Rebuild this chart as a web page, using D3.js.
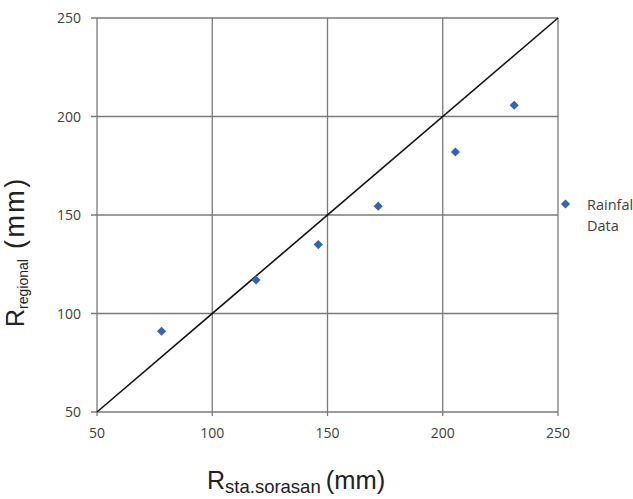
<!DOCTYPE html>
<html>
<head>
<meta charset="utf-8">
<script src="https://cdn.jsdelivr.net/npm/d3@7"></script>
<style>
  html, body { margin: 0; padding: 0; background: #fff; }
  svg { display: block; }
  text { font-family: "Open Sans", "DejaVu Sans", sans-serif; }
  .title { font-family: "Liberation Sans", Arial, sans-serif; }
</style>
</head>
<body>
<svg id="chart" width="633" height="499"></svg>
<script>
// Data
const stationValues = [78, 119, 146, 172, 205.5, 231];
const regionalValues = [91, 117, 135, 154.5, 182, 205.7];
const xTicks = [50, 100, 150, 200, 250];
const yTicks = [50, 100, 150, 200, 250];
const lineEnds = [50, 250];
const seriesName = ["Rainfal", "Data"];

const svg = d3.select("#chart");
const mLeft = 97, mRight = 558, mTop = 18, mBottom = 412;

const x = d3.scaleLinear().domain([50, 250]).range([mLeft, mRight]);
const y = d3.scaleLinear().domain([50, 250]).range([mBottom, mTop]);

const gridColor = "#7a7a7a";
const labelColor = "#404040";

// grid
svg.append("g").selectAll("line").data(xTicks).join("line")
  .attr("x1", d => x(d)).attr("x2", d => x(d))
  .attr("y1", mTop).attr("y2", mBottom + 4)
  .attr("stroke", gridColor).attr("stroke-width", 1.3);
svg.append("g").selectAll("line").data(yTicks).join("line")
  .attr("x1", mLeft - 6).attr("x2", mRight)
  .attr("y1", d => y(d)).attr("y2", d => y(d))
  .attr("stroke", gridColor).attr("stroke-width", 1.3);

// tick labels
svg.append("g").selectAll("text").data(xTicks).join("text")
  .attr("x", d => x(d)).attr("y", mBottom + 26)
  .attr("text-anchor", "middle")
  .attr("font-size", 14).attr("fill", labelColor)
  .text(d => d);
svg.append("g").selectAll("text").data(yTicks).join("text")
  .attr("x", mLeft - 16).attr("y", d => y(d) + 5)
  .attr("text-anchor", "end")
  .attr("font-size", 14).attr("fill", labelColor)
  .text(d => d);

// 1:1 line
svg.append("line")
  .attr("x1", x(lineEnds[0])).attr("y1", y(lineEnds[0]))
  .attr("x2", x(lineEnds[1])).attr("y2", y(lineEnds[1]))
  .attr("stroke", "#111").attr("stroke-width", 1.6);

// points
const markerColor = "#3563b7";
const diamond = d3.symbol().type(d3.symbolSquare).size(42);
svg.append("g").selectAll("path").data(stationValues.map((v, i) => [v, regionalValues[i]])).join("path")
  .attr("d", diamond)
  .attr("transform", d => `translate(${x(d[0])},${y(d[1])}) rotate(45)`)
  .attr("fill", markerColor);

// legend
svg.append("path").attr("d", diamond)
  .attr("transform", "translate(565.5,204) rotate(45)")
  .attr("fill", markerColor);
svg.append("text").attr("x", 587).attr("y", 210)
  .attr("font-size", 14.5).attr("fill", labelColor).text(seriesName[0]);
svg.append("text").attr("x", 587).attr("y", 231)
  .attr("font-size", 14.5).attr("fill", labelColor).text(seriesName[1]);

// axis titles
const xt = svg.append("text").attr("class", "title").attr("x", 207).attr("y", 489).attr("fill", "#222");
xt.append("tspan").attr("font-size", 25).text("R");
xt.append("tspan").attr("font-size", 18.5).attr("dy", 3.5).text("sta.sorasan");
xt.append("tspan").attr("font-size", 25.5).attr("dy", -3.5).attr("dx", 5).text("(mm)");

const yt = svg.append("text").attr("class", "title").attr("transform", "translate(24,327) rotate(-90)").attr("fill", "#222");
yt.append("tspan").attr("font-size", 25).text("R");
yt.append("tspan").attr("font-size", 14).attr("dy", 3.5).text("regional");
yt.append("tspan").attr("font-size", 27).attr("dy", -3.5).attr("dx", 10).attr("letter-spacing", 2.5).text("(mm)");
</script>
</body>
</html>
